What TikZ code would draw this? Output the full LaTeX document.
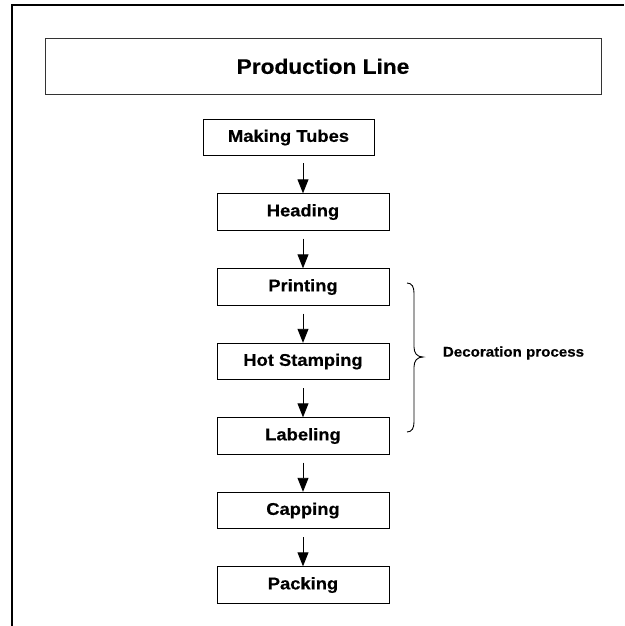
\documentclass[tikz,border=0pt]{standalone}
\usepackage{fontspec}
\setmainfont{Liberation Sans}[FakeStretch=1.08,FakeBold=0.4]
\usetikzlibrary{arrows.meta}
\begin{document}
\begin{tikzpicture}[x=1pt,y=-1pt,
  frame/.style={line width=1.3pt,black},
  titlebox/.style={draw=black!80,line width=1pt,minimum width=556pt,minimum height=55.5pt,inner sep=0pt,
    font=\fontsize{21}{24}\selectfont\bfseries},
  stepbox/.style={draw=black,line width=0.9pt,minimum width=172pt,minimum height=36.5pt,inner sep=0pt,
    font=\fontsize{17}{19}\selectfont\bfseries},
  arr/.style={line width=0.9pt,-{Triangle[length=14pt,width=11pt]},shorten <=8pt}]
\useasboundingbox (0,0) rectangle (624,626);
\fill[white] (0,0) rectangle (624,626);
\draw[frame] (12,626) -- (12,5) -- (624,5);
\node[titlebox] (title) at (323,66.3) {Production Line};
\node[stepbox,minimum width=171pt] (mt) at (288.5,137.5) {Making Tubes};
\node[stepbox] (hd) at (303,212) {Heading};
\node[stepbox] (pr) at (303,287) {Printing};
\node[stepbox] (hs) at (303,361.5) {Hot Stamping};
\node[stepbox] (lb) at (303,436) {Labeling};
\node[stepbox] (cp) at (303,510.5) {Capping};
\node[stepbox] (pk) at (303,585) {Packing};
\draw[arr,shorten <=7pt] (mt.south -| hd.north) -- (hd.north);
\draw[arr] (hd.south) -- (pr.north);
\draw[arr] (pr.south) -- (hs.north);
\draw[arr] (hs.south) -- (lb.north);
\draw[arr] (lb.south) -- (cp.north);
\draw[arr] (cp.south) -- (pk.north);
\coordinate (btop) at (407,283);
\coordinate (btip) at (423,357);
\coordinate (bbot) at (407,432);
\draw[line width=0.9pt] (btop) .. controls (412,283) and (414,287) .. (414,293) -- (414,347)
  .. controls (414,353) and (417,357) .. (btip)
  .. controls (417,357) and (414,361) .. (414,367) -- (414,422)
  .. controls (414,428) and (412,432) .. (bbot);
\node[font=\fontsize{14}{16}\selectfont\bfseries,inner sep=0pt] (deco) at (513.5,353) {Decoration process};
\end{tikzpicture}
\end{document}
